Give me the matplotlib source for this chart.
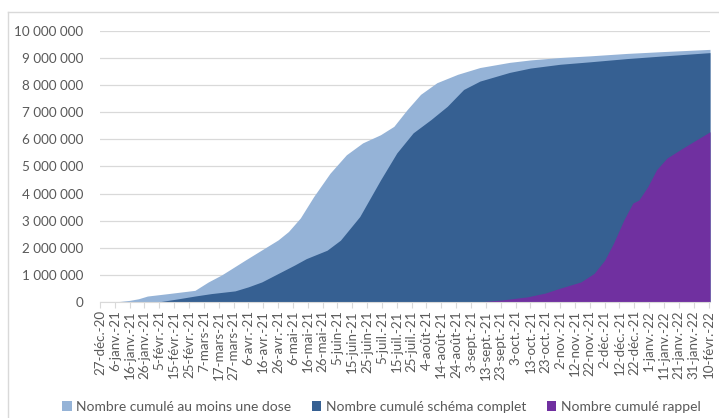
import matplotlib
matplotlib.use("Agg")
import matplotlib.pyplot as plt
import matplotlib.dates as mdates
from matplotlib.lines import Line2D
import numpy as np
import pandas as pd

plt.rcParams["font.family"] = ["Lato", "DejaVu Sans"]

START = pd.Timestamp("2020-12-27")

# jours depuis le 27-déc-20, valeurs en millions
dose1_days = [0, 10, 20, 26, 32, 46, 64, 73, 82, 89, 98, 109, 120, 127, 135, 144,
              155, 166, 177, 189, 198, 207, 216, 227, 241, 256, 276, 290, 310,
              330, 355, 380, 411]
dose1_vals = [0, 0, 0.06, 0.12, 0.22, 0.31, 0.43, 0.74, 1.0, 1.24, 1.55, 1.92, 2.29,
              2.6, 3.1, 3.89, 4.75, 5.43, 5.87, 6.17, 6.48, 7.1, 7.66, 8.09, 8.4,
              8.65, 8.84, 8.93, 9.02, 9.08, 9.17, 9.24, 9.32]

complet_days = [0, 39, 53, 64, 75, 91, 100, 109, 120, 131, 139, 153, 162, 175, 189,
                200, 211, 223, 234, 245, 256, 276, 290, 310, 330, 355, 380, 411]
complet_vals = [0, 0, 0.12, 0.22, 0.31, 0.41, 0.56, 0.74, 1.05, 1.36, 1.6, 1.91,
                2.28, 3.15, 4.5, 5.5, 6.24, 6.73, 7.22, 7.84, 8.15, 8.47, 8.63,
                8.77, 8.86, 8.98, 9.08, 9.2]

rappel_days = [0, 254, 270, 288, 300, 310, 324, 333, 340, 346, 353, 359, 363, 369,
               375, 382, 391, 400, 411]
rappel_vals = [0, 0, 0.07, 0.19, 0.33, 0.51, 0.74, 1.06, 1.54, 2.17, 3.03, 3.65,
               3.76, 4.25, 4.88, 5.31, 5.62, 5.92, 6.28]

labels = ["Nombre cumulé au moins une dose", "Nombre cumulé schéma complet",
          "Nombre cumulé rappel"]
colors = ["#95b3d7", "#366092", "#7030a0"]

MOIS = ["janv.", "févr.", "mars", "avr.", "mai", "juin", "juil.", "août",
        "sept.", "oct.", "nov.", "déc."]


def to_dates(days):
    return mdates.date2num(START + pd.to_timedelta(days, unit="D"))


def main():
    fig = plt.figure(figsize=(7.19, 4.18), dpi=100)
    ax = fig.add_axes([0.139, 0.2775, 0.8485, 0.6485])

    series = [(dose1_days, dose1_vals), (complet_days, complet_vals),
              (rappel_days, rappel_vals)]
    for (d, v), c, lab in zip(series, colors, labels):
        x = to_dates(d)
        ax.fill_between(x, np.array(v) * 1e6, 0, color=c, lw=0, label=lab)

    ax.set_ylim(0, 10e6)
    ax.set_yticks(np.arange(0, 10.01e6, 1e6))
    ax.set_yticklabels([f"{int(v):,}".replace(",", " ") for v in np.arange(0, 10.01e6, 1e6)])
    ax.set_xlim(to_dates([0])[0], to_dates([411])[0])

    ticks = START + pd.to_timedelta(np.arange(0, 411, 10), unit="D")
    ax.set_xticks(mdates.date2num(ticks))
    ax.set_xticklabels([f"{t.day}-{MOIS[t.month - 1]}-{t.year % 100}" for t in ticks],
                       rotation=90)

    ax.grid(axis="y", color="#d9d9d9", lw=0.9)
    ax.set_axisbelow(True)
    for s in ["top", "right", "left"]:
        ax.spines[s].set_visible(False)
    ax.spines["bottom"].set_color("#d9d9d9")
    ax.tick_params(axis="y", length=0, labelsize=9.7, labelcolor="#595959", pad=12)
    ax.tick_params(axis="x", length=4, color="#d9d9d9", labelsize=9.6,
                   labelcolor="#595959", pad=2)

    leg = fig.legend(loc="center", bbox_to_anchor=(0.53, 0.027), ncol=3, frameon=False,
                     fontsize=10, handlelength=0.7, handleheight=0.7,
                     handletextpad=0.3, columnspacing=1.5, borderaxespad=0)
    for t in leg.get_texts():
        t.set_color("#595959")

    # cadre du graphique
    fig.add_artist(Line2D([0.011, 0.011], [0.0, 0.971], color="#d9d9d9", lw=1,
                          transform=fig.transFigure))
    fig.add_artist(Line2D([0.011, 0.999], [0.971, 0.971], color="#d9d9d9", lw=1,
                          transform=fig.transFigure))

    fig.savefig("out.png", dpi=100)
    plt.close(fig)


if __name__ == "__main__":
    main()
